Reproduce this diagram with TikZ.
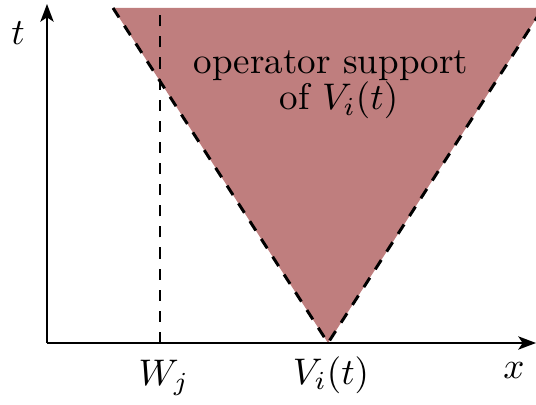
\documentclass[tikz,border=0pt]{standalone}
\usetikzlibrary{arrows.meta}

\definecolor{supportred}{RGB}{191,126,126}
\tikzset{every picture/.style={line width=0.5pt}}
\tikzset{
  axis/.style={line width=0.5pt,-{Stealth[length=4.8pt,width=3.6pt,inset=1.2pt]}},
  conedash/.style={line width=0.8pt,dash pattern=on 3pt off 2.7pt},
  lbl/.style={inner sep=0pt}
}

\begin{document}
\begin{tikzpicture}[x=0.27pt,y=0.27pt,yscale=-1,xscale=1]
\useasboundingbox (0,0) rectangle (536,405);

%Coordinates
\coordinate (O) at (47,343);
\coordinate (Ttop) at (47,4);
\coordinate (Xend) at (536,343);
\coordinate (Apex) at (328,343);
\coordinate (ConeL) at (113,8);
\coordinate (ConeR) at (543,8);
\coordinate (Wbot) at (160,343);
\coordinate (Wtop) at (160,12);

%Shape: Cone
\begin{scope}
\clip (0,0) rectangle (536,405);
\fill[supportred] (ConeL) -- (ConeR) -- (Apex) -- cycle;
\draw[conedash] (ConeL) -- (Apex) -- (ConeR);
\end{scope}
%Straight Lines
\draw[conedash] (Wbot) -- (Wtop);
%Axes
\draw[axis] (O) -- (Ttop);
\draw[axis] (O) -- (Xend);

% Text Node
\node[lbl] (tlab) at (18,33) {$t$};
% Text Node
\node[lbl] (xlab) at (514,371) {$x$};
% Text Node
\node[lbl] (wlab) at (164,378) {$W_j$};
% Text Node
\node[lbl] (vlab) at (331,375) {$V_i(t)$};
% Text Node
\node[lbl,anchor=base] (sup1) at (331,74) {operator support};
% Text Node
\node[lbl,anchor=base] (sup2) at (339,110) {of $V_i(t)$};

\end{tikzpicture}
\end{document}
